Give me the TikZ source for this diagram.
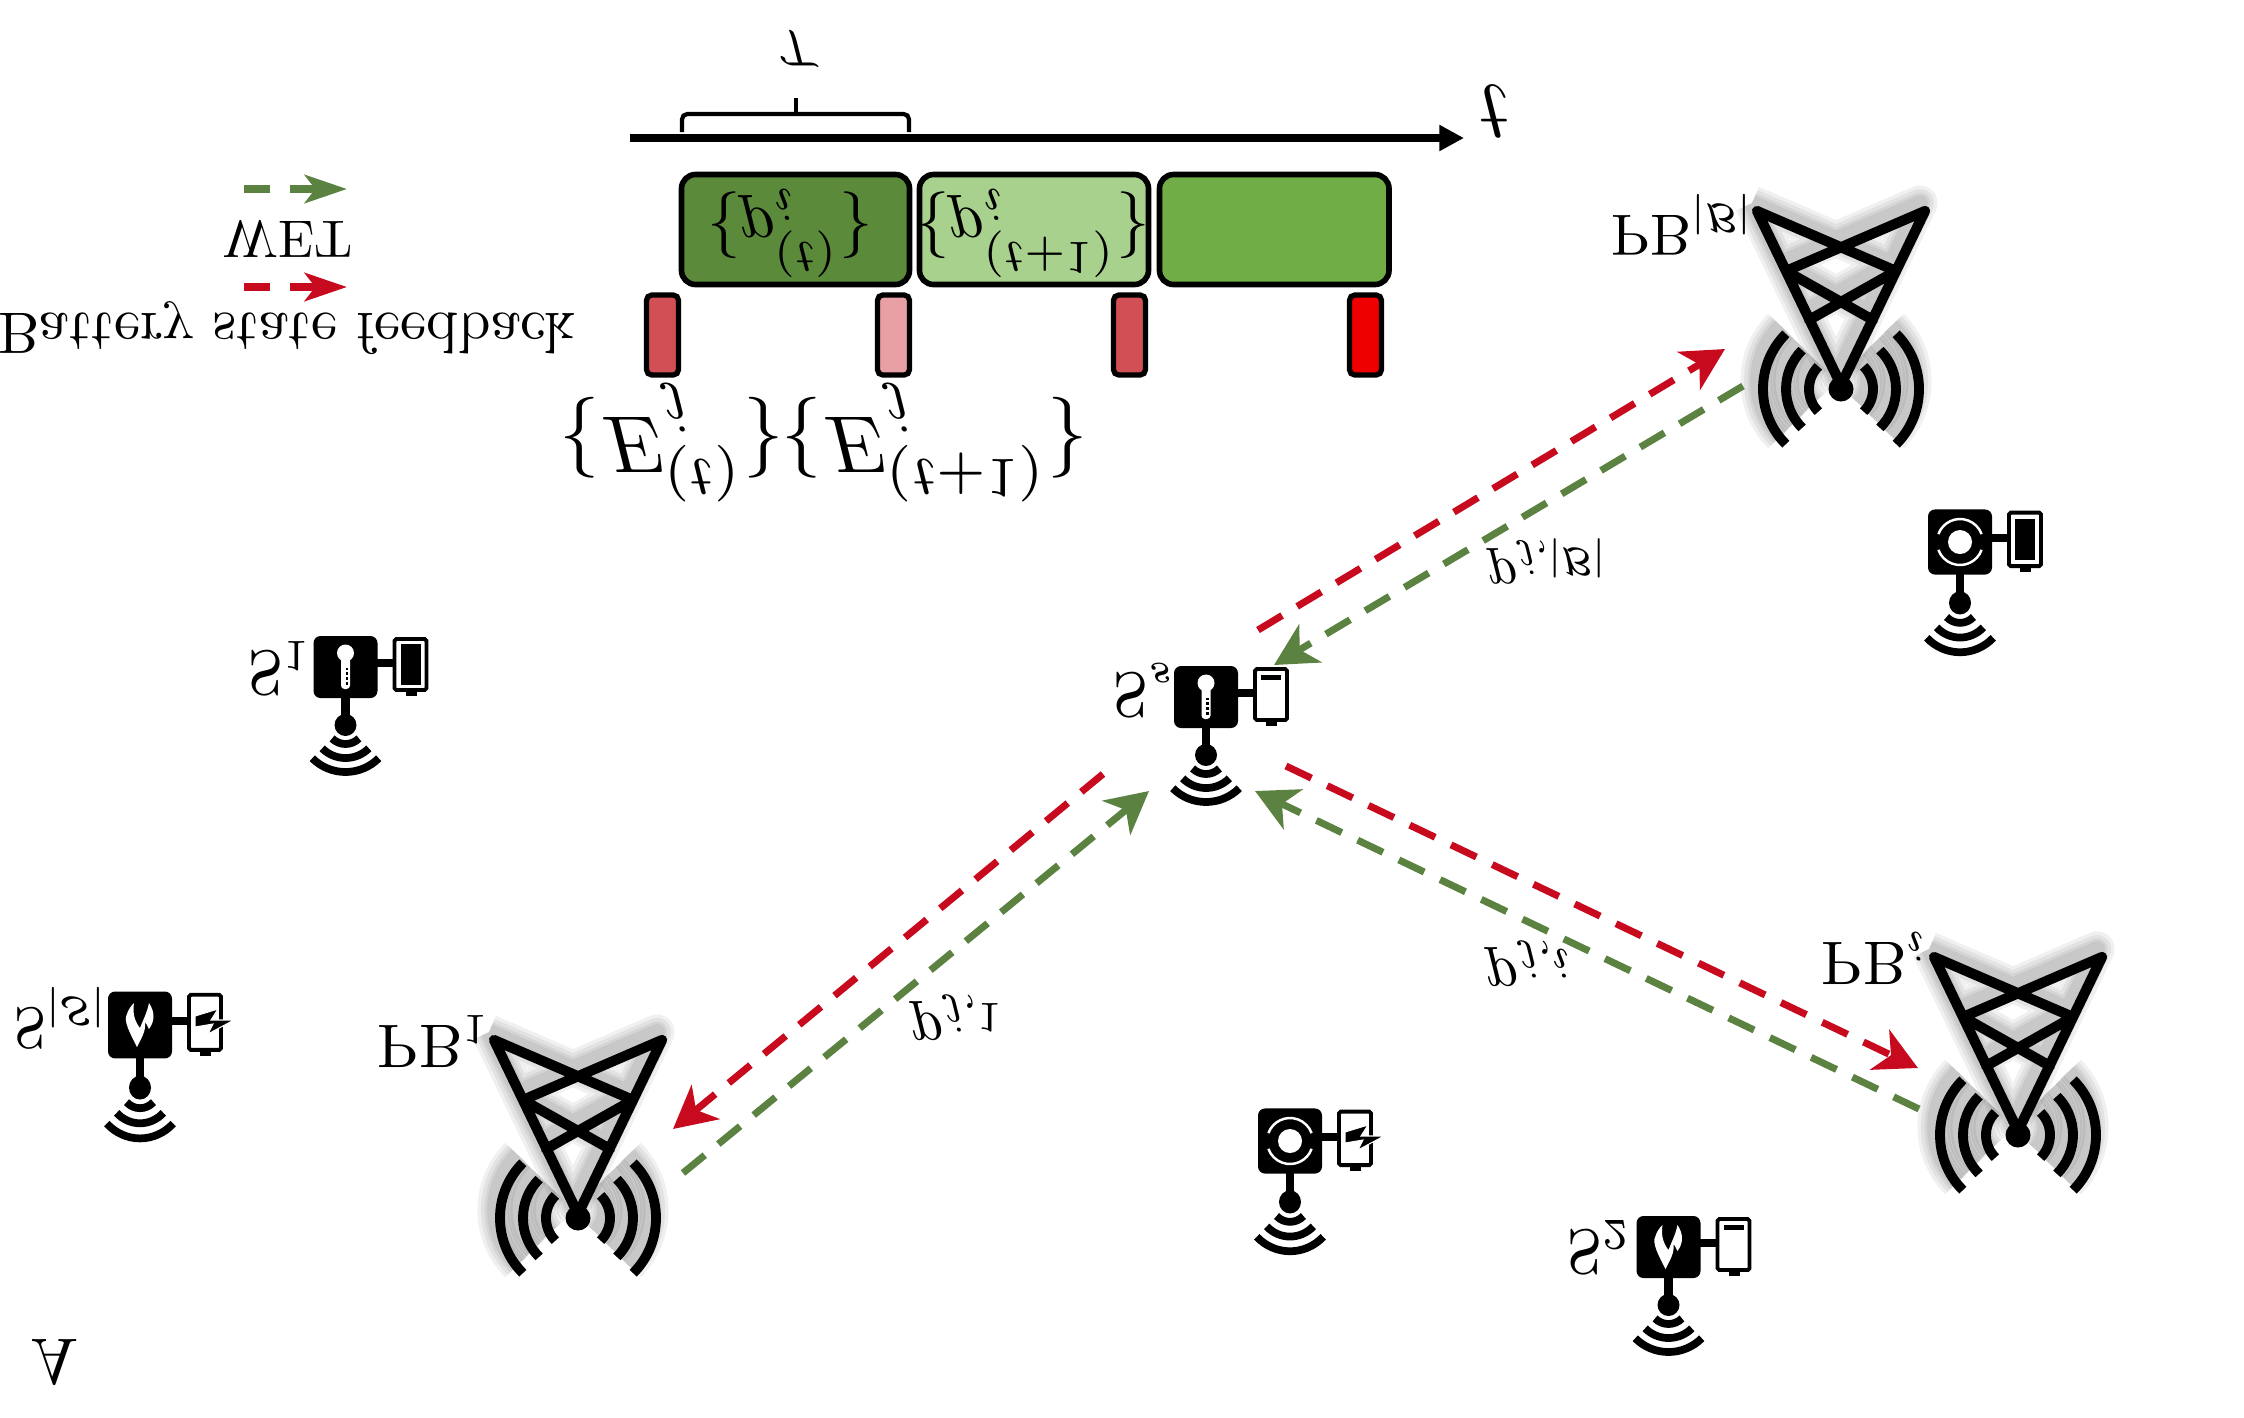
\documentclass[tikz,border=0pt]{standalone}
\usetikzlibrary{arrows.meta}
\definecolor{wetgreen}{HTML}{5B8240}
\definecolor{fbred}{HTML}{C80A1E}
\definecolor{slotdark}{HTML}{5B8A3B}
\definecolor{slotlight}{HTML}{A9D18E}
\definecolor{slotmid}{HTML}{70AD47}
\definecolor{barmid}{HTML}{D24F55}
\definecolor{barlight}{HTML}{E8A0A4}
\definecolor{barfull}{HTML}{EE0000}
\newcommand{\towerlines}{(-84,-178) -- (0,-4) -- (84,-178) -- (-55,-118) -- (32,-69) (-84,-178) -- (55,-118) -- (-32,-69)}
\tikzset{
  flip/.style={yscale=-1,inner sep=0pt,anchor=base},
  flipw/.style={yscale=-1,inner sep=0pt,anchor=base west},
  slot/.style={line width=1.6pt,rounded corners=4pt},
  bar/.style={line width=1.5pt,rounded corners=1.5pt},
  wetline/.style={wetgreen,line width=2pt,dash pattern=on 8pt off 5pt,-{Stealth[length=12pt,width=12.5pt,inset=3.5pt]}},
  fbline/.style={fbred,line width=2pt,dash pattern=on 8pt off 5pt,-{Stealth[length=12pt,width=12.5pt,inset=3.5pt]}},
  keyline/.style={line width=2.1pt,dash pattern=on 7.4pt off 5.7pt,-{Stealth[length=12pt,width=8pt,inset=3pt]}},
  pics/tower/.style={code={
    \foreach \w in {10,8,6,4.5} {
      \begin{scope}[shift={(-5,-8)},opacity=.06,line width=\w pt]
        \draw[line join=round] \towerlines;
        \foreach \r in {32,55,78} {
          \draw (135:\r) arc (135:225:\r);
          \draw (-45:\r) arc (-45:45:\r);
        }
      \end{scope}
    }
    \draw[line width=2.9pt,line join=round,line cap=round] \towerlines;
    \fill (0,0) circle (12.5);
    \foreach \r in {32,55,78} {
      \draw[line width=2.8pt] (135:\r) arc (135:225:\r);
      \draw[line width=2.8pt] (-45:\r) arc (-45:45:\r);
    }
  }},
  pics/sensorbody/.style={code={
    \fill[rounded corners=2pt] (-32,-31) rectangle (32,31);
    \draw[line width=2.3pt] (0,30) -- (0,58);
    \fill (0,58) circle (11);
    \foreach \r in {19,33,47} {
      \draw[line width=2.2pt] (0,58) ++(45:\r) arc (45:135:\r);
    }
    \draw[line width=2.3pt] (31,-4) -- (49,-4);
    \draw[line width=1.1pt,fill=white,rounded corners=.5pt] (49,-28) rectangle (81,23);
    \fill (60,23) rectangle (71,29);
  }},
  pics/thermo/.style={code={
    \fill[white] (0,-14) circle (8.5);
    \fill[white,rounded corners=1pt] (-4.5,-14) rectangle (4.5,22);
    \fill (0,1) rectangle (2.5,18);
    \foreach \yy in {4,9,14} {
      \draw[white,line width=.5pt] (0,\yy) -- (3,\yy);
    }
  }},
  pics/flame/.style={code={
    \fill[white] (-3,22) .. controls (-10,8) and (-17,-4) .. (-13,-11)
      .. controls (-12,-15) and (-9,-19) .. (-6,-22)
      .. controls (-8,-10) and (-4,-2) .. (0,3)
      .. controls (3,-5) and (7,-12) .. (9,-22)
      .. controls (15,-13) and (15,-4) .. (9,4)
      .. controls (7,0) and (6,-2) .. (5,-3)
      .. controls (6,6) and (2,12) .. (-3,22) -- cycle;
  }},
  pics/ring/.style={code={
    \fill[white] (0,0) circle (12);
    \draw[white,line width=.7pt] (20:23) arc (20:160:23);
    \draw[white,line width=.7pt] (200:23) arc (200:340:23);
  }},
  pics/batlow/.style={code={
    \fill (55,-22) rectangle (75,-17);
  }},
  pics/batfull/.style={code={
    \fill (55,-23) rectangle (75,18);
  }},
  pics/bolt/.style={code={
    \fill[draw=white,line width=.3pt] (55,-9) -- (78,-16) -- (71,-5) -- (94,-5) -- (68,9) -- (73,-1) -- (55,2) -- cycle;
  }},
}
\begin{document}
\begin{tikzpicture}[x=0.01cm,y=-0.01cm]
\useasboundingbox (0,0) rectangle (2244,1417);
% end points of the links
\coordinate (fbastart) at (1258,630);
\coordinate (fbaend) at (1725,349);
\coordinate (weta) at (1743,386);
\coordinate (wetaend) at (1274,665);
\coordinate (fbone) at (1103,774);
\coordinate (fboneend) at (673,1129);
\coordinate (wetone) at (683,1173);
\coordinate (wetoneend) at (1149,791);
\coordinate (fbz) at (1286,766);
\coordinate (fbzend) at (1918,1068);
\coordinate (wetz) at (1919,1109);
\coordinate (wetzend) at (1255,791);
\coordinate (keywet) at (244,189);
\coordinate (keywetend) at (347,189);
\coordinate (keyfb) at (244,287);
\coordinate (keyfbend) at (347,287);
\coordinate (axisstart) at (630,138);
\coordinate (axisend) at (1464,138);

% time line
\draw[line width=2.3pt,-{Triangle[length=7pt,width=7pt]}] (axisstart) -- (axisend);
\node[flip,scale=2.4] (axislab) at (1495,85) {$t$};
\draw[line width=1.2pt,rounded corners=1.5pt] (682,132) -- (682,114) -- (909,114) -- (909,132);
\draw[line width=1.2pt] (796,114) -- (796,98);
\node[flip,scale=1.35] (slotlab) at (798,33) {$\mathcal{T}$};

\draw[slot,fill=slotdark] (681.5,174.5) rectangle (909.5,284.5);
\draw[slot,fill=slotlight] (919.5,174.5) rectangle (1148.5,284.5);
\draw[slot,fill=slotmid] (1159.5,174.5) rectangle (1389,284.5);
\foreach \xx/\col in {644/barmid,875/barlight,1111/barmid,1347/barfull} {
  \draw[bar,fill=\col] (\xx+2.5,295) rectangle ++(32,80);
}
\node[flip,scale=1.9] (pone) at (790,208) {$\{p_{i}^{(t)}\}$};
\node[flip,scale=1.9] (ptwo) at (1033,208) {$\{p_{i}^{(t+1)}\}$};
\node[flip,scale=2.3] (eone) at (672,417) {$\{E_{j}^{(t)}\}$};
\node[flip,scale=2.3] (etwo) at (935,417) {$\{E_{j}^{(t+1)}\}$};

% key
\draw[keyline,wetgreen] (keywet) -- (keywetend);
\node[flip,scale=1.5] (wetlab) at (288,221) {WET};
\draw[keyline,fbred] (keyfb) -- (keyfbend);
\node[flip,scale=1.66] (fblab) at (287,313) {Battery state feedback};

% towers
\pic at (578,1218) {tower};
\pic at (2018,1135) {tower};
\pic at (1841,389) {tower};
\node[flipw,scale=1.75] (pbone) at (376,1025) {$\mathrm{PB}_{1}$};
\node[flipw,scale=1.75] (pbz) at (1820,942) {$\mathrm{PB}_{i}$};
\node[flipw,scale=1.65] (pba) at (1610,215) {$\mathrm{PB}_{|\mathcal{B}|}$};

% sensors
\pic at (345.5,667) {sensorbody};
\pic at (345.5,667) {thermo};
\pic at (345.5,667) {batfull};
\pic at (1206,697) {sensorbody};
\pic at (1206,697) {thermo};
\pic at (1206,697) {batlow};
\pic at (1668.5,1247) {sensorbody};
\pic at (1668.5,1247) {flame};
\pic at (1668.5,1247) {batlow};
\pic[yscale=1.08] at (140,1025) {sensorbody};
\pic at (140,1025) {flame};
\pic at (140,1025) {bolt};
\pic[yscale=1.05] at (1290,1141) {sensorbody};
\pic at (1290,1141) {ring};
\pic at (1290,1141) {bolt};
\pic[yscale=1.05] at (1960,542) {sensorbody};
\pic at (1960,542) {ring};
\pic at (1960,542) {batfull};
\node[flipw,scale=1.8] (sone) at (247,651) {$\mathrm{S}_{1}$};
\node[flipw,scale=1.8] (ss) at (1112,673) {$\mathrm{S}_{s}$};
\node[flipw,scale=1.8] (stwo) at (1566,1230) {$\mathrm{S}_{2}$};
\node[flipw,scale=1.65] (slast) at (13,1008) {$\mathrm{S}_{|\mathcal{S}|}$};

% links
\draw[fbline] (fbastart) -- (fbaend);
\draw[wetline] (weta) -- (wetaend);
\draw[fbline] (fbone) -- (fboneend);
\draw[wetline] (wetone) -- (wetoneend);
\draw[fbline] (fbz) -- (fbzend);
\draw[wetline] (wetz) -- (wetzend);
\node[flipw,scale=1.6] (pja) at (1487,559) {$p_{j,|\mathcal{B}|}$};
\node[flipw,scale=1.75] (pjz) at (1485,959) {$p_{j,i}$};
\node[flipw,scale=1.75] (pjone) at (910,1013) {$p_{j,1}$};

\node[flip,scale=1.83] (area) at (55,1339) {A};
\end{tikzpicture}
\end{document}
